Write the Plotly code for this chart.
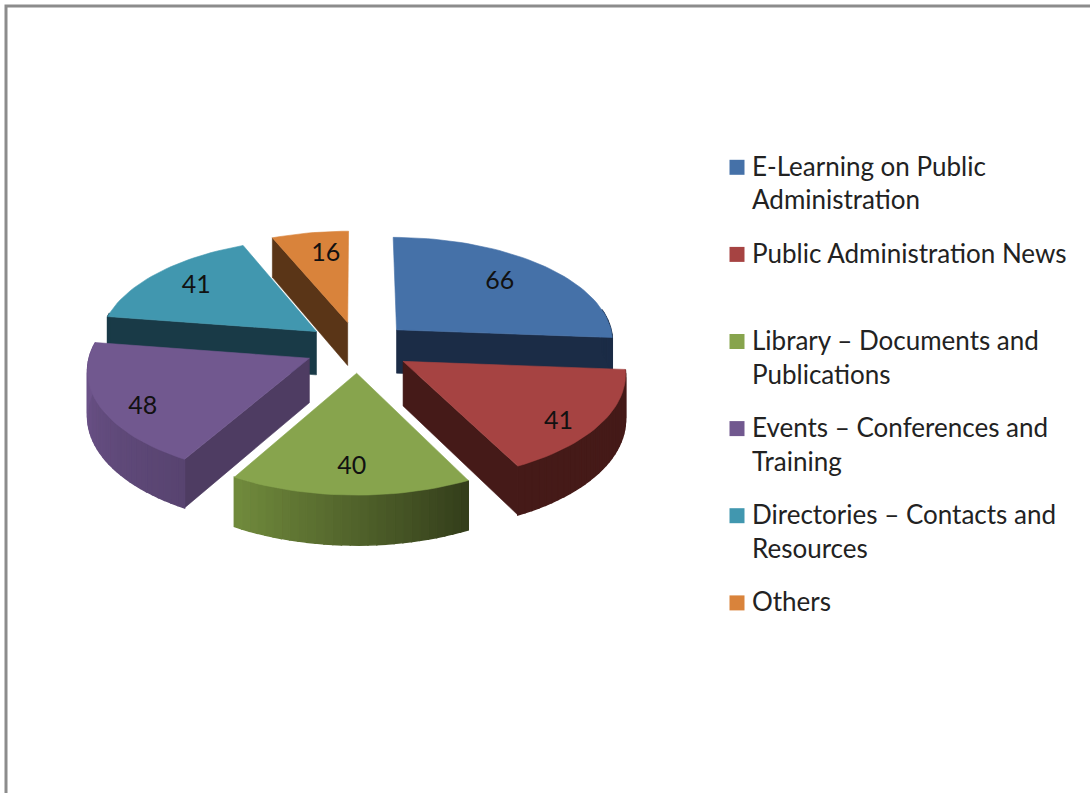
import math
import plotly.graph_objects as go

# ---- data ----
categories = [
    "E-Learning on Public<br>Administration",
    "Public Administration News<br>&nbsp;",
    "Library – Documents and<br>Publications",
    "Events – Conferences and<br>Training",
    "Directories – Contacts and<br>Resources",
    "Others",
]
values = [66, 41, 40, 48, 41, 16]

# ---- style ----
top_colors = ["#4571A8", "#A64342", "#87A44D", "#71588F", "#4197AF", "#D9833B"]
face_colors = ["#1B2C46", "#451A18", "#4F6A2A", "#4E3C62", "#193A47", "#5A3517"]
rim_start = [(27, 44, 70), (69, 26, 24), (52, 62, 27), (88, 68, 112), (25, 58, 71), (90, 53, 23)]
rim_end = [(27, 44, 70), (69, 26, 24), (112, 138, 60), (110, 84, 140), (25, 58, 71), (90, 53, 23)]
label_frac = [0.71, 0.85, 0.79, 0.84, 0.75, 0.73]
label_turn = [-1, 6, 0, -6, 0, 2.5]
paint_order = [5, 4, 0, 3, 1, 2]

CX, CY = 358, 347
RX, RY = 218, 104.6
PERSP = 0.097
HEIGHT = 44
PULL = 0.245
ARC_STEPS = 2  # degrees per rim segment


def project(x, y, z=0.0):
    s = 1 / (1 + PERSP * y)
    return CX + RX * x * s, CY - RY * y * s + HEIGHT * z * s


def polar(deg, r=1.0):
    a = math.radians(deg)
    return r * math.sin(a), r * math.cos(a)


def poly(points, color, hover=None, width=0.6):
    xs = [p[0] for p in points] + [points[0][0]]
    ys = [p[1] for p in points] + [points[0][1]]
    return go.Scatter(
        x=xs, y=ys, mode="lines", fill="toself", fillcolor=color,
        line=dict(color=color, width=width), showlegend=False,
        hoverinfo="text" if hover else "skip", text=hover,
    )


total = sum(values)
starts, spans = [], []
acc = 0
for v in values:
    starts.append(acc / total * 360)
    spans.append(v / total * 360)
    acc += v

fig = go.Figure()

# legend entries
for i, name in enumerate(categories):
    fig.add_trace(go.Scatter(
        x=[None], y=[None], mode="markers", name=name, legendgroup=f"g{i}",
        marker=dict(symbol="square", size=15, color=top_colors[i]),
    ))

# wedges, back to front
for i in paint_order:
    a0, sp = starts[i], spans[i]
    a1 = a0 + sp
    mid = a0 + sp / 2
    ox, oy = polar(mid, PULL)
    n = max(2, int(sp / ARC_STEPS))
    angs = [a0 + sp * k / n for k in range(n + 1)]
    rim = [(ox + x, oy + y) for x, y in (polar(a) for a in angs)]

    # the two cut faces: only those turned towards the viewer
    for edge, normal in ((rim[0], a0 - 90), (rim[-1], a1 + 90)):
        if polar(normal)[1] < -0.01:
            fig.add_trace(poly([project(ox, oy), project(*edge), project(*edge, 1), project(ox, oy, 1)], face_colors[i]))

    # outer rim: only the segments turned towards the viewer
    for k in range(n):
        if polar((angs[k] + angs[k + 1]) / 2)[1] > 0.2:
            continue
        t = k / max(1, n - 1)
        c = tuple(round(rim_start[i][j] + (rim_end[i][j] - rim_start[i][j]) * t) for j in range(3))
        col = f"rgb({c[0]},{c[1]},{c[2]})"
        fig.add_trace(poly([project(*rim[k]), project(*rim[k + 1]), project(*rim[k + 1], 1), project(*rim[k], 1)], col, width=1.5))

    top = [project(ox, oy)] + [project(*p) for p in rim]
    fig.add_trace(poly(top, top_colors[i], hover=str(values[i])))

# value labels
lx, ly = [], []
for i in range(len(values)):
    mid = starts[i] + spans[i] / 2
    ox, oy = polar(mid, PULL)
    dx, dy = polar(mid + label_turn[i], label_frac[i])
    px, py = project(ox + dx, oy + dy)
    lx.append(px)
    ly.append(py)
fig.add_trace(go.Scatter(
    x=lx, y=ly, mode="text", text=[str(v) for v in values], showlegend=False, hoverinfo="skip",
    textfont=dict(family="Lato", size=25, color="#111111"),
))

fig.update_layout(
    width=1090, height=793, margin=dict(l=0, r=0, t=0, b=0),
    paper_bgcolor="white", plot_bgcolor="white",
    xaxis=dict(range=[0, 1090], visible=False, fixedrange=True),
    yaxis=dict(range=[793, 0], visible=False, fixedrange=True),
    legend=dict(
        x=712 / 1090, y=1 - 142 / 793, xanchor="left", yanchor="top",
        font=dict(family="Lato", size=26, color="#222222"),
        traceorder="grouped", tracegroupgap=16.5, bgcolor="rgba(0,0,0,0)", itemclick=False, itemdoubleclick=False,
    ),
    shapes=[dict(type="path", path="M 6 793 L 6 6 L 1090 6", xref="x", yref="y",
                 line=dict(color="#8C8C8C", width=3))],
)

# page margin off; legend squares aligned with the first text line, as in the reference
post = """
document.body.style.margin = '0';
document.body.style.overflow = 'hidden';
document.querySelectorAll('.legend .traces').forEach(function (t) {
  var lines = t.querySelectorAll('.legendtext .line').length || 1;
  var s = t.querySelector('.legendsymbols');
  if (s) { s.setAttribute('transform', 'translate(5,' + (2 - (lines - 1) * 17) + ')'); }
});
"""
fig.write_html("out.html", post_script=post, config={"displayModeBar": False})
